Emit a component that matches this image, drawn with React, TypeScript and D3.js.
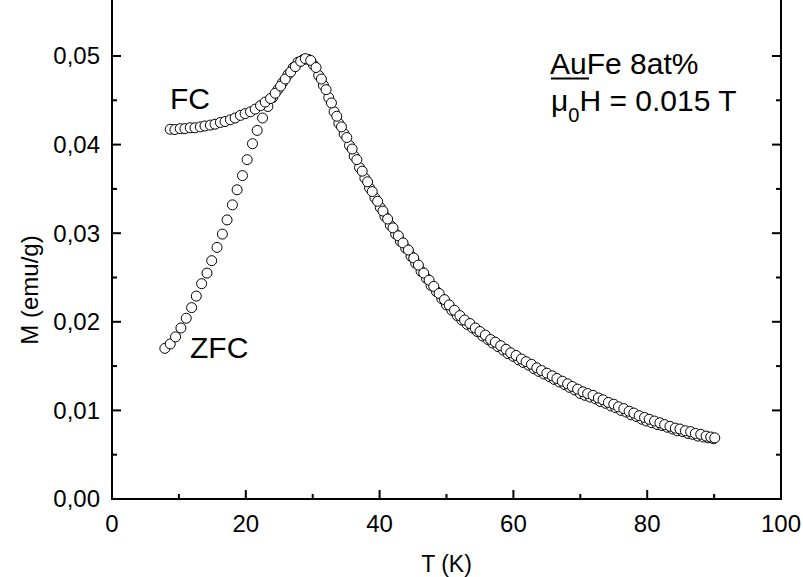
import React from "react";
import * as d3 from "d3";

// ZFC branch: temperature (K) and magnetisation (emu/g)
const zfcT = [7.9, 8.7, 9.5, 10.3, 11.1, 11.9, 12.6, 13.4, 14.2, 14.9, 15.7, 16.5, 17.2, 18.0, 18.7, 19.5, 20.2, 21.0, 21.7, 22.5, 23.3, 24.0, 24.8, 25.5, 26.3, 27.1, 27.8, 28.6, 29.4,
  30.1, 30.9, 31.6, 32.4, 33.2, 33.9, 34.7, 35.5, 36.2, 37.0, 37.8, 38.5, 39.3, 40.1, 40.8, 41.6, 42.4, 43.1, 43.9, 44.7, 45.4, 46.2, 47.0, 47.7, 48.5, 49.3, 50.0,
  50.8, 51.6, 52.3, 53.1, 53.9, 54.6, 55.4, 56.2, 56.9, 57.7, 58.5, 59.2, 60.0, 60.8, 61.5, 62.3, 63.1, 63.8, 64.6, 65.4, 66.1, 66.9, 67.7, 68.4, 69.2, 70.0,
  70.7, 71.5, 72.3, 73.0, 73.8, 74.6, 75.3, 76.1, 76.9, 77.6, 78.4, 79.2, 79.9, 80.7, 81.5, 82.2, 83.0, 83.8, 84.5, 85.3, 86.1, 86.8, 87.6, 88.4, 89.1, 89.9];
const zfcM = [0.0170, 0.0175, 0.0183, 0.0193, 0.0204, 0.0216, 0.0229, 0.0243, 0.0255, 0.0269, 0.0284, 0.0299, 0.0315, 0.0332, 0.0349, 0.0365, 0.0383, 0.0401, 0.0416, 0.0430, 0.0443, 0.0453, 0.0462, 0.0470, 0.0479, 0.0487, 0.0493, 0.0496, 0.0496,
  0.0490, 0.0478, 0.0467, 0.0453, 0.0437, 0.0424, 0.0412, 0.0399, 0.0387, 0.0374, 0.0362, 0.0351, 0.0340, 0.0329, 0.0319, 0.0309, 0.0299, 0.0291, 0.0283, 0.0274, 0.0266, 0.0257, 0.0249, 0.0241, 0.0234, 0.0226, 0.0219,
  0.0213, 0.0207, 0.0202, 0.0197, 0.0193, 0.0189, 0.0184, 0.0180, 0.0176, 0.0172, 0.0168, 0.0164, 0.0161, 0.0157, 0.0154, 0.0151, 0.0147, 0.0144, 0.0141, 0.0138, 0.0135, 0.0132, 0.0129, 0.0126, 0.0123, 0.0119,
  0.0117, 0.0115, 0.0113, 0.0110, 0.0108, 0.0105, 0.0103, 0.0100, 0.0098, 0.0095, 0.0093, 0.0090, 0.0088, 0.0086, 0.0084, 0.0083, 0.0081, 0.0079, 0.0077, 0.0076, 0.0074, 0.0073, 0.0071, 0.0070, 0.0069, 0.0068];

// FC branch
const fcT = [8.7, 9.4, 10.2, 10.9, 11.7, 12.4, 13.2, 13.9, 14.7, 15.4, 16.2, 16.9, 17.7, 18.4, 19.2, 19.9, 20.7, 21.4, 22.2, 22.9, 23.7, 24.4, 25.2, 25.9, 26.7, 27.4, 28.2, 28.9, 29.7,
  30.5, 31.3, 32.0, 32.8, 33.6, 34.3, 35.1, 35.9, 36.6, 37.4, 38.2, 38.9, 39.7, 40.5, 41.2, 42.0, 42.8, 43.5, 44.3, 45.1, 45.8, 46.6, 47.4, 48.1, 48.9, 49.7,
  50.4, 51.2, 52.0, 52.7, 53.5, 54.3, 55.0, 55.8, 56.6, 57.3, 58.1, 58.9, 59.6, 60.4, 61.2, 61.9, 62.7, 63.5, 64.2, 65.0, 65.8, 66.5, 67.3, 68.1, 68.8, 69.6,
  70.4, 71.1, 71.9, 72.7, 73.4, 74.2, 75.0, 75.7, 76.5, 77.3, 78.0, 78.8, 79.6, 80.3, 81.1, 81.9, 82.6, 83.4, 84.2, 84.9, 85.7, 86.5, 87.2, 88.0, 88.8, 89.5, 90.1];
const fcM = [0.04173, 0.0417, 0.0418, 0.0418, 0.0419, 0.0419, 0.0420, 0.0421, 0.0422, 0.0423, 0.0425, 0.0426, 0.0428, 0.0430, 0.0433, 0.0435, 0.0437, 0.0440, 0.0444, 0.0448, 0.0452, 0.0458, 0.0466, 0.0474, 0.0482, 0.0488, 0.0494, 0.0497, 0.0495,
  0.0487, 0.0474, 0.0462, 0.0447, 0.0432, 0.0420, 0.0408, 0.0395, 0.0383, 0.0370, 0.0358, 0.0347, 0.0336, 0.0325, 0.0316, 0.0306, 0.0297, 0.0289, 0.0281, 0.0272, 0.0264, 0.0255, 0.0247, 0.0240, 0.0232, 0.0225,
  0.0219, 0.0213, 0.0207, 0.0202, 0.0198, 0.0193, 0.0189, 0.0185, 0.0180, 0.0177, 0.0173, 0.0169, 0.0165, 0.0162, 0.0158, 0.0155, 0.0152, 0.0148, 0.0145, 0.0142, 0.0139, 0.0136, 0.0133, 0.0130, 0.0127, 0.0124,
  0.0121, 0.0119, 0.0117, 0.0114, 0.0112, 0.0109, 0.0107, 0.0104, 0.0102, 0.0099, 0.0097, 0.0094, 0.0092, 0.0090, 0.0088, 0.0086, 0.0084, 0.0082, 0.0080, 0.0079, 0.0077, 0.0076, 0.0074, 0.0073, 0.0071, 0.0070, 0.0069];

const xMajorTicks = [0, 20, 40, 60, 80, 100];
const xMinorTicks = [10, 30, 50, 70, 90];
const yMajorTicks = [0, 0.01, 0.02, 0.03, 0.04, 0.05];
const yMinorTicks = [0.005, 0.015, 0.025, 0.035, 0.045];
const yTickLabels = ["0,00", "0,01", "0,02", "0,03", "0,04", "0,05"];

const FONT = "'Liberation Sans', Arial, Helvetica, sans-serif";

export default function App() {
  const W = 803, H = 577;
  const left = 112, right = 781, bottom = 499;
  const x = d3.scaleLinear().domain([0, 100]).range([left, right]);
  const y = d3.scaleLinear().domain([0, 0.05]).range([bottom, 56]);
  const r = 5;
  const zfc = zfcT.map((t, i) => [t, zfcM[i]]);
  const fc = fcT.map((t, i) => [t, fcM[i]]);
  const major = 9, minor = 5;
  return (
    <svg width={W} height={H} style={{ position: "absolute", left: 0, top: 0, background: "#fff" }} fontFamily={FONT}>
      <rect x={0} y={0} width={W} height={H} fill="#fff" />
      {/* markers */}
      <g fill="#fff" stroke="#000" strokeWidth={1}>
        {zfc.map((d, i) => <circle key={"z" + i} cx={x(d[0])} cy={y(d[1])} r={r} />)}
        {fc.map((d, i) => <circle key={"f" + i} cx={x(d[0])} cy={y(d[1])} r={r} />)}
      </g>
      {/* frame */}
      <g stroke="#000" strokeWidth={2} fill="none">
        <line x1={left} y1={0} x2={left} y2={bottom} />
        <line x1={right} y1={0} x2={right} y2={bottom} />
        <line x1={left - 1} y1={bottom} x2={right + 1} y2={bottom} />
        {xMajorTicks.map(t => <line key={"xM" + t} x1={x(t)} x2={x(t)} y1={bottom} y2={bottom - major} />)}
        {xMinorTicks.map(t => <line key={"xm" + t} x1={x(t)} x2={x(t)} y1={bottom} y2={bottom - minor} />)}
        {yMajorTicks.map(t => <line key={"yM" + t} x1={left} x2={left + major} y1={y(t)} y2={y(t)} />)}
        {yMinorTicks.map(t => <line key={"ym" + t} x1={left} x2={left + minor} y1={y(t)} y2={y(t)} />)}
        {yMajorTicks.map(t => <line key={"yRM" + t} x1={right} x2={right - major} y1={y(t)} y2={y(t)} />)}
        {yMinorTicks.map(t => <line key={"yRm" + t} x1={right} x2={right - minor} y1={y(t)} y2={y(t)} />)}
      </g>
      {/* tick labels */}
      <g fontSize={24} fill="#000">
        {xMajorTicks.map(t => <text key={"xl" + t} x={x(t)} y={532} textAnchor="middle">{t}</text>)}
        {yMajorTicks.map((t, i) => <text key={"yl" + t} x={100} y={y(t)} dy="0.35em" textAnchor="end">{yTickLabels[i]}</text>)}
      </g>
      {/* axis titles */}
      <text x={(left + right) / 2} y={572} fontSize={23} textAnchor="middle">T (K)</text>
      <text transform={`translate(38, 290) rotate(-90)`} fontSize={24} textAnchor="middle">M (emu/g)</text>
      {/* annotations */}
      <text x={170} y={109} fontSize={30}>FC</text>
      <text x={190} y={358} fontSize={30}>ZFC</text>
      <text x={550} y={74} fontSize={30}>AuFe 8at%</text>
      <line x1={551} x2={589} y1={78.5} y2={78.5} stroke="#000" strokeWidth={2} />
      <text x={551} y={111} fontSize={30}>
        <tspan>μ</tspan>
        <tspan fontSize={20} dy={11}>0</tspan>
        <tspan dy={-11}>H = 0.015 T</tspan>
      </text>
    </svg>
  );
}
